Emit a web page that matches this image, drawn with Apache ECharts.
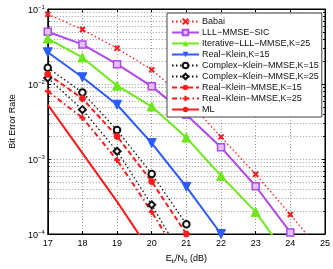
<!DOCTYPE html>
<html><head><meta charset="utf-8">
<script src="https://cdn.jsdelivr.net/npm/echarts@6/dist/echarts.min.js"></script>
<style>html,body{margin:0;padding:0;background:#fff}#c{width:333px;height:269px}</style>
</head><body><div id="c"></div>
<script>
var snr = [17, 18, 19, 20, 21, 22, 23, 24, 25];
var babai      = [0.0853, 0.0533, 0.0299, 0.0155, 0.0062, 0.00197, 0.000625, 0.000182, 0.00005];
var lllSic     = [0.0498, 0.0337, 0.0184, 0.0093, 0.0039, 0.00143, 0.000433, 0.000105];
var iterLll    = [0.0404, 0.0226, 0.0095, 0.0050, 0.00193, 0.000595, 0.000197, 0.000044];
var realKlein  = [0.0265, 0.0123, 0.00529, 0.00163, 0.000425, 0.0001];
var cKlein15   = [0.0165, 0.0077, 0.00243, 0.000633, 0.000135];
var cKlein25   = [0.0120, 0.00455, 0.00127, 0.000245, 0.00004];
var rKlein15   = [0.0135, 0.0064, 0.0020, 0.00050, 0.0001];
var rKlein25   = [0.0080, 0.00355, 0.00097, 0.000197, 0.000035];
var mlBer      = [0.0053, 0.0012, 0.00027, 0.000055];
var minorGrid = [];
[0.0001, 0.001, 0.01].forEach(function (d) { for (var k = 2; k <= 9; k++) minorGrid.push(k * d); });

function pairs(arr) { return arr.map(function (v, i) { return [snr[i], v]; }); }
var xPath = 'path://M0,0L10,10M10,0L0,10';
var plusPath = 'path://M5,0L5,10M0,5L10,5';
var FONT = 'Liberation Sans';
function mk(name, data, color, ltype, lw, symbol, ssize, extra) {
  var s = {
    name: name, type: 'line', data: pairs(data), color: color,
    symbol: symbol, symbolSize: ssize, showSymbol: true,
    lineStyle: { color: color, width: lw, type: ltype },
    itemStyle: { color: color, borderColor: color },
    animation: false, clip: true, z: 3
  };
  if (extra) for (var k in extra) s[k] = extra[k];
  return s;
}
var series = [
  mk('Babai', babai, '#ff1a1a', [1.5, 2.5], 1.3, xPath, 5, { itemStyle: { color: 'none', borderColor: '#ff1a1a', borderWidth: 2 } }),
  mk('LLL\u2212MMSE\u2212SIC', lllSic, '#b048f0', 'solid', 2, 'rect', 7, { itemStyle: { color: '#e2c0f8', borderColor: '#b048f0', borderWidth: 1.5 } }),
  mk('Iterative\u2212LLL\u2212MMSE,K=25', iterLll, '#6ee81a', 'solid', 2, 'triangle', 9),
  mk('Real\u2212Klein,K=15', realKlein, '#2a5cff', 'solid', 2, 'triangle', 9, { symbolRotate: 180 }),
  mk('Complex\u2212Klein\u2212MMSE,K=15', cKlein15, '#111', [1.5, 2.5], 1.3, 'circle', 6.5, { itemStyle: { color: '#fff', borderColor: '#111', borderWidth: 2 } }),
  mk('Complex\u2212Klein\u2212MMSE,K=25', cKlein25, '#111', [1.5, 2.5], 1.3, 'diamond', 7, { itemStyle: { color: '#fff', borderColor: '#111', borderWidth: 2 } }),
  mk('Real\u2212Klein\u2212MMSE,K=15', rKlein15, '#ff1a1a', [5, 3], 2, 'circle', 6),
  mk('Real\u2212Klein\u2212MMSE,K=25', rKlein25, '#ff1a1a', [5, 3, 1.5, 3], 2, plusPath, 6, { itemStyle: { color: 'none', borderColor: '#ff1a1a', borderWidth: 2 } }),
  mk('ML', mlBer, '#ff1a1a', 'solid', 2, 'none', 1)
];
var chart = echarts.init(document.getElementById('c'), null, { renderer: 'canvas' });
chart.setOption({
  backgroundColor: '#fff',
  animation: false,
  textStyle: { fontFamily: FONT },
  grid: { left: 32, right: 8, top: 9, bottom: 29, show: true, borderColor: '#000', borderWidth: 1, backgroundColor: 'transparent' },
  legend: {
    left: 167, top: 13, orient: 'vertical', itemWidth: 27, itemHeight: 7, itemGap: 0, z: 10,
    padding: [3, 3, 2, 4], backgroundColor: '#fff', borderColor: '#444', borderWidth: 1,
    textStyle: { fontFamily: FONT, fontSize: 9, color: '#111', lineHeight: 11, padding: [0, 0, 0, -2] },
    data: series.map(function (s) { return s.name; })
  },
  xAxis: [{
    type: 'value', min: 17, max: 25, interval: 1,
    name: 'E{sub|b}/N{sub|0} (dB)', nameLocation: 'middle', nameGap: 19,
    nameTextStyle: { fontFamily: FONT, fontSize: 9, color: '#000', rich: { sub: { fontSize: 6, padding: [5, 0, 0, 0] } } },
    axisLine: { show: true, lineStyle: { color: '#000' } },
    axisTick: { inside: true, length: 3, lineStyle: { color: '#000' } },
    axisLabel: { fontFamily: FONT, fontSize: 9, color: '#000', margin: 5 },
    splitLine: { show: true, lineStyle: { type: [1, 2], color: '#9a9a9a' } }
  }, {
    type: 'value', min: 17, max: 25, interval: 1, position: 'top',
    axisLine: { show: true, lineStyle: { color: '#000' } },
    axisTick: { inside: true, length: 3, lineStyle: { color: '#000' } },
    axisLabel: { show: false }, splitLine: { show: false }
  }],
  yAxis: [{
    type: 'log', min: 0.0001, max: 0.1, logBase: 10,
    name: 'Bit Error Rate', nameLocation: 'middle', nameGap: 23,
    nameTextStyle: { fontFamily: FONT, fontSize: 9, color: '#000' },
    axisLine: { show: true, lineStyle: { color: '#000' } },
    axisTick: { inside: true, length: 3, lineStyle: { color: '#000' } },
    axisLabel: {
      fontFamily: FONT, margin: 3, color: '#000',
      formatter: function (v) { return '{b|10}{s|\u2212' + Math.abs(Math.round(Math.log10(v))) + '}'; },
      rich: { b: { fontSize: 9, padding: [4, 0, 0, 0] }, s: { fontSize: 6, padding: [0, 0, 4, 0] } }
    },
    splitLine: { show: true, lineStyle: { type: [1, 2], color: '#9a9a9a' } }
  }, {
    type: 'log', min: 0.0001, max: 0.1, logBase: 10, position: 'right',
    axisLine: { show: true, lineStyle: { color: '#000' } },
    axisTick: { inside: true, length: 3, lineStyle: { color: '#000' } },
    axisLabel: { show: false }, splitLine: { show: false }
  }],
  series: series
});
// minor log grid lines, positioned through the chart's own axis scales
var x0 = chart.convertToPixel({ xAxisIndex: 0 }, snr[0]);
var x1 = chart.convertToPixel({ xAxisIndex: 0 }, snr[snr.length - 1]);
var graphics = [];
minorGrid.forEach(function (v) {
  var y = Math.round(chart.convertToPixel({ yAxisIndex: 0 }, v)) + 0.5;
  graphics.push({ type: 'line', z: 0, silent: true, shape: { x1: x0, y1: y, x2: x1, y2: y },
    style: { stroke: '#9a9a9a', lineWidth: 1, lineDash: [1, 2] } });
  graphics.push({ type: 'line', z: 0, silent: true, shape: { x1: x0, y1: y, x2: x0 + 2, y2: y },
    style: { stroke: '#000', lineWidth: 1 } });
  graphics.push({ type: 'line', z: 0, silent: true, shape: { x1: x1 - 2, y1: y, x2: x1, y2: y },
    style: { stroke: '#000', lineWidth: 1 } });
});
chart.setOption({ graphic: { elements: graphics } });
</script></body></html>
